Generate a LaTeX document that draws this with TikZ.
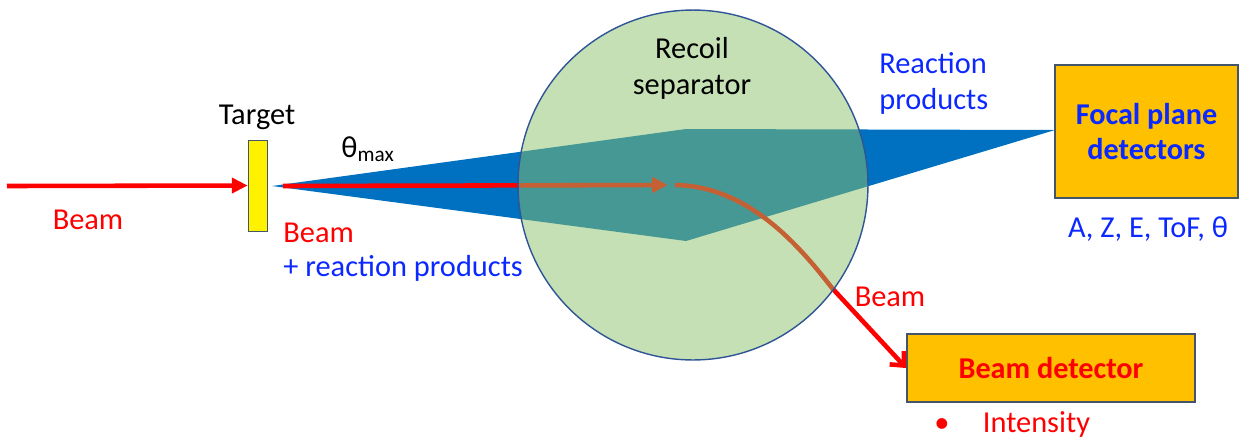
\documentclass[tikz,border=0pt]{standalone}
\usepackage{fontspec}
\setmainfont{Carlito}
\usetikzlibrary{arrows.meta}
\definecolor{conecol}{RGB}{0,112,192}
\definecolor{sepfill}{RGB}{139,193,105}
\definecolor{sepline}{RGB}{47,85,151}
\definecolor{boxline}{RGB}{68,84,106}
\definecolor{detfill}{RGB}{255,192,0}
\definecolor{txtblue}{RGB}{10,40,255}
\begin{document}
\begin{tikzpicture}[x=0.02cm,y=-0.02cm,
  txt/.style={inner sep=0pt,font=\fontsize{17.3}{20.5}\selectfont},
  det/.style={draw=boxline,line width=1pt,fill=detfill,inner sep=0pt,align=center,font=\fontsize{17.2}{20}\selectfont\bfseries},
  beamline/.style={red,line width=2.6pt},
  filltip/.style={-{Triangle[length=9pt,width=8.5pt]}},
  opentip/.style={-{Straight Barb[length=6pt,width=11pt]}}]
\useasboundingbox (0,0) rectangle (1240,437);
\coordinate (src) at (7,186);
\coordinate (apex) at (272,186);
\coordinate (start) at (283,186);
\coordinate (focus) at (668,185);
\coordinate (bend) at (675,185);
\coordinate (exit) at (832,288);
\coordinate (upper) at (686,129);
\coordinate (lower) at (686,241);
\coordinate (tip) at (1055,130);
\node[draw=boxline,fill=yellow,minimum width=0.38cm,minimum height=1.82cm,inner sep=0pt] (target) at (257.5,185.5) {};
\node[det,minimum width=3.66cm,minimum height=2.66cm,text=txtblue] (focal) at (1146.5,131.5) {Focal plane\\detectors};
\node[det,minimum width=5.76cm,minimum height=1.36cm,text=red] (beamdet) at (1051,368) {Beam detector};
\fill[conecol] (apex) -- (upper) -- (tip) -- (lower) -- cycle;
\draw[beamline,filltip] (src) -- (target.west);
\draw[beamline,filltip] (start) -- (focus);
\draw[beamline,opentip] (bend) .. controls (745,186) and (795,240) .. (exit) -- (beamdet.west);
\node[circle,minimum size=7cm,inner sep=0pt,fill=sepfill,fill opacity=0.5,draw=sepline,line width=0.8pt] (sep) at (693,185) {};
\node[txt,text=red] (beamin) at (88,220) {Beam};
\node[txt] (tlabel) at (257,117) {Target};
\node[txt] (theta) at (368,149) {θ\textsubscript{max}};
\node[txt,text=red,anchor=west] (beamout) at (283,233) {Beam};
\node[txt,text=txtblue,anchor=west] (mix) at (283,268) {+ reaction products};
\node[txt,align=center] (seplabel) at (692,68) {Recoil\\separator};
\node[txt,text=txtblue,align=left,anchor=west] (prodlabel) at (879,83) {Reaction\\products};
\node[txt,text=txtblue] (quant) at (1148,229) {A, Z, E, ToF, θ};
\node[txt,text=red] (beamdefl) at (890,297) {Beam};
\node[txt,text=red,anchor=base west] (intens) at (934,432) {•\hspace{1.1em}Intensity};
\end{tikzpicture}
\end{document}
